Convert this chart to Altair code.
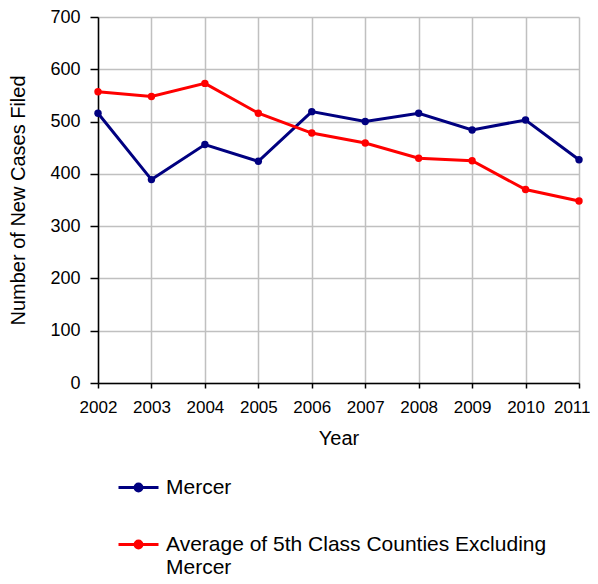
import altair as alt
import pandas as pd

years = [2002, 2003, 2004, 2005, 2006, 2007, 2008, 2009, 2010, 2011]
mercer = [516, 389, 456, 424, 519, 500, 516, 484, 503, 427]
average = [557, 548, 573, 516, 478, 459, 430, 425, 370, 348]
series_names = ["Mercer", "Average of 5th Class Counties Excluding Mercer"]
colors = ["#000080", "#FF0000"]

rows = []
for y, m in zip(years, mercer):
    rows.append({"Year": y, "Cases": m, "Series": series_names[0]})
for y, a in zip(years, average):
    rows.append({"Year": y, "Cases": a, "Series": series_names[1]})
df = pd.DataFrame(rows)

FONT = "Liberation Sans"

symbol_path = "M-1,0H1M-0.17,0A0.17,0.17,0,1,1,0.17,0A0.17,0.17,0,1,1,-0.17,0Z"

last_year_test = "datum.value == 2011"

chart = alt.Chart(df).mark_line(
    strokeWidth=3,
    point=alt.OverlayMarkDef(filled=True, size=55, opacity=1),
).encode(
    x=alt.X("Year:Q",
            scale=alt.Scale(domain=[2002, 2011], nice=False, zero=False),
            axis=alt.Axis(values=years, format="d", title="Year",
                          labelFontSize=17, titleFontSize=20, labelPadding=11,
                          tickSize=5, titlePadding=13, labelFlush=False,
                          labelAlign={"condition": {"test": last_year_test, "value": "right"}, "value": "center"},
                          labelOffset={"condition": {"test": last_year_test, "value": 11}, "value": 0})),
    y=alt.Y("Cases:Q",
            scale=alt.Scale(domain=[0, 700], nice=False),
            axis=alt.Axis(values=[0, 100, 200, 300, 400, 500, 600, 700],
                          title="Number of New Cases Filed",
                          labelFontSize=18, titleFontSize=20, labelPadding=10,
                          tickSize=8, titlePadding=21)),
    color=alt.Color("Series:N",
                    scale=alt.Scale(domain=series_names, range=colors),
                    sort=series_names,
                    legend=alt.Legend(
                        title=None, orient="none", legendX=19, legendY=449,
                        direction="vertical",
                        symbolType=symbol_path, symbolSize=1600,
                        symbolStrokeWidth=3, symbolOffset=0, labelOffset=6,
                        labelFontSize=21, labelFont=FONT, labelColor="#000000",
                        labelLimit=600, rowPadding=25, padding=0,
                        labelBaseline="middle",
                        labelExpr="datum.label == 'Mercer' ? 'Mercer' : ['Average of 5th Class Counties Excluding', 'Mercer']",
                    )),
).properties(
    width=481, height=366,
    autosize=alt.AutoSizeParams(type="none"),
    padding={"left": 90, "top": 9, "right": 11, "bottom": 193},
).configure_view(
    stroke=None
).configure_axis(
    labelFont=FONT, titleFont=FONT, labelColor="#000000", titleColor="#000000",
    titleFontWeight="normal",
    domainColor="#000000", domainWidth=1.5, tickColor="#000000", tickWidth=1.5,
    gridColor="#c0c0c0", gridWidth=1.5,
)

chart.save("out.html", embed_options={"renderer": "svg", "actions": False})
